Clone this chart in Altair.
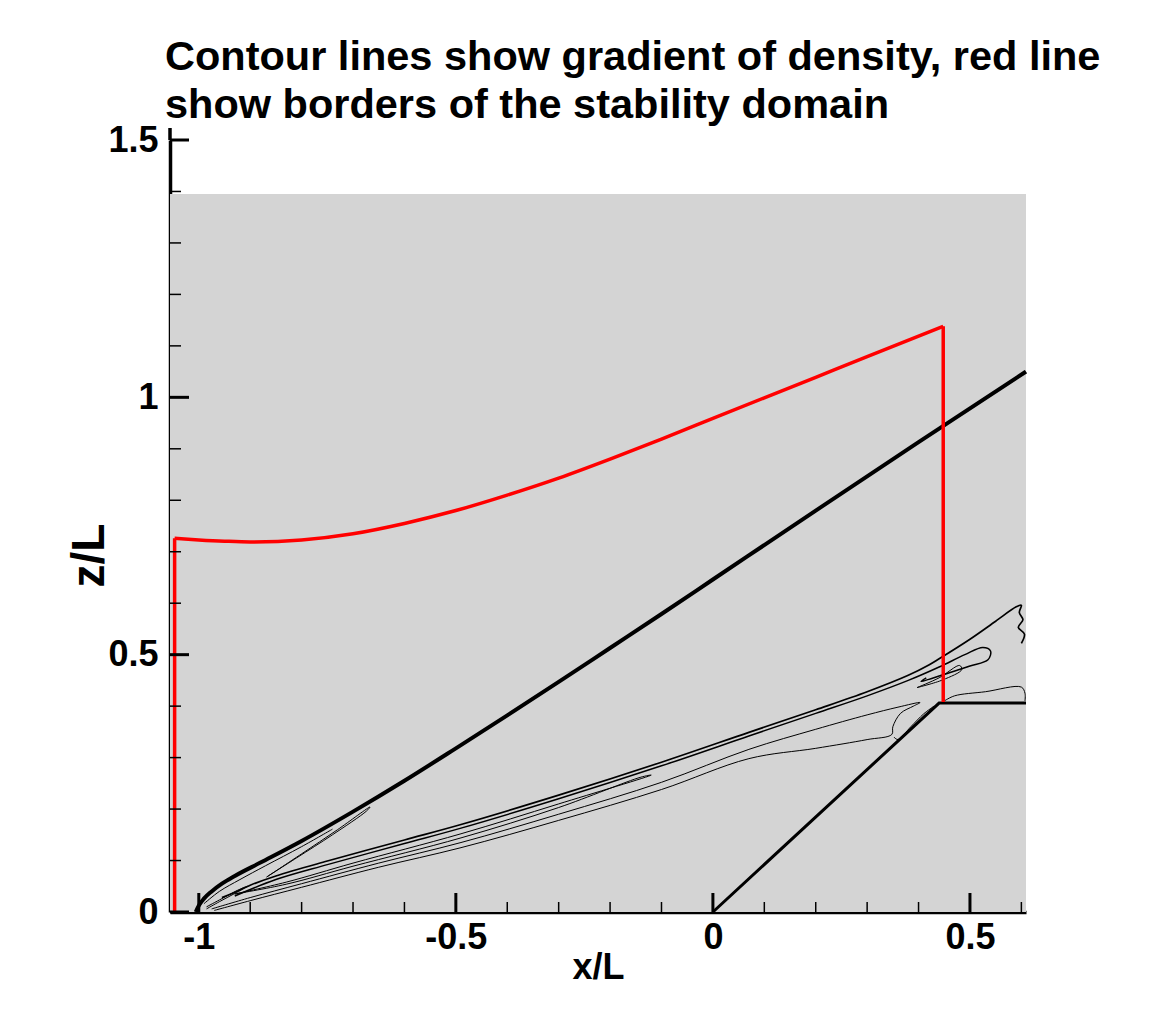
import altair as alt
import pandas as pd

# ---- text -----------------------------------------------------------------
TITLE_LINES = [
    "Contour lines show gradient of density, red line",
    "show borders of the stability domain",
]
X_TITLE = "x/L"
Z_TITLE = "z/L"

# ---- axes -----------------------------------------------------------------
X_RANGE = [-1.056, 0.609]
Z_RANGE = [0.0, 1.5]
GRAY_TOP = 1.395

X_MAJOR = [-1.0, -0.5, 0.0, 0.5]
X_MINOR = [-0.9, -0.8, -0.7, -0.6, -0.4, -0.3, -0.2, -0.1, 0.1, 0.2, 0.3, 0.4, 0.6]
Z_MAJOR = [0.0, 0.5, 1.0, 1.5]
Z_MINOR = [0.1, 0.2, 0.3, 0.4, 0.6, 0.7, 0.8, 0.9, 1.1, 1.2, 1.3, 1.4]

# ---- shock front (thick black) --------------------------------------------
SHOCK_X = [-1.006, -0.999, -0.99, -0.975, -0.955, -0.93, -0.88, -0.8, -0.7, -0.6,
           -0.5, -0.4, -0.3, -0.2, -0.1, 0.0, 0.2, 0.4, 0.609]
SHOCK_Z = [0.0, 0.014, 0.026, 0.04, 0.055, 0.07, 0.096, 0.138, 0.195, 0.255,
           0.318, 0.382, 0.447, 0.513, 0.579, 0.646, 0.78, 0.913, 1.05]

# ---- body: wedge ramp and flat top -----------------------------------------
BODY_X = [0.0, 0.44, 0.609]
BODY_Z = [0.0, 0.406, 0.406]

# ---- stability-domain border (red) -----------------------------------------
RED_LEFT_X = -1.047
RED_RIGHT_X = 0.448
RED_RIGHT_BOTTOM = 0.408
RED_X = [-1.047, -1.0, -0.95, -0.9, -0.8, -0.7, -0.6, -0.5, -0.4, -0.3,
         -0.2, -0.1, 0.0, 0.1, 0.2, 0.3, 0.448]
RED_Z = [0.726, 0.723, 0.7205, 0.719, 0.723, 0.735, 0.755, 0.78, 0.81, 0.843,
         0.88, 0.919, 0.959, 0.999, 1.039, 1.079, 1.138]

# ---- density-gradient contours ----------------------------------------------
NOSE_SLIVER_X = [-0.868, -0.80, -0.73, -0.667, -0.674, -0.74, -0.81, -0.868]
NOSE_SLIVER_Z = [0.068, 0.113, 0.16, 0.204, 0.196, 0.15, 0.105, 0.068]

SHOCK_INNER_X = [-0.99, -0.96, -0.92, -0.87, -0.8, -0.74]
SHOCK_INNER_Z = [0.016, 0.04, 0.063, 0.09, 0.127, 0.161]

NOSE_LOOP_X = [-0.985, -0.96, -0.93, -0.905, -0.925, -0.955, -0.985]
NOSE_LOOP_Z = [0.006, 0.02, 0.036, 0.05, 0.042, 0.026, 0.01]

BAND_UPPER_X = [-0.955, -0.935, -0.9, -0.85, -0.75, -0.6, -0.49, -0.3, -0.1, 0.07,
                0.2, 0.3, 0.38, 0.42, 0.44, 0.5, 0.55, 0.59, 0.6, 0.596, 0.603,
                0.594, 0.606, 0.6]
BAND_UPPER_Z = [0.028, 0.036, 0.052, 0.07, 0.099, 0.14, 0.17, 0.227, 0.291, 0.349,
                0.393, 0.428, 0.46, 0.48, 0.492, 0.53, 0.565, 0.593, 0.596, 0.582,
                0.568, 0.553, 0.54, 0.522]

BAND_LOWER_X = [-0.93, -0.85, -0.75, -0.6, -0.49, -0.3, -0.1, 0.07, 0.2, 0.3, 0.38,
                0.44, 0.49, 0.525, 0.54, 0.535, 0.5, 0.46, 0.42, 0.405, 0.415]
BAND_LOWER_Z = [0.031, 0.063, 0.092, 0.133, 0.163, 0.22, 0.284, 0.342, 0.386, 0.42,
                0.45, 0.476, 0.5, 0.514, 0.507, 0.49, 0.478, 0.465, 0.452, 0.448, 0.455]

SMALL_LOBE_X = [0.397, 0.44, 0.48, 0.484, 0.447, 0.397]
SMALL_LOBE_Z = [0.436, 0.455, 0.479, 0.471, 0.451, 0.436]

MID_SLIVER_X = [-0.93, -0.83, -0.7, -0.49, -0.3, -0.12, -0.14, -0.3, -0.49, -0.7, -0.83, -0.93]
MID_SLIVER_Z = [0.035, 0.058, 0.095, 0.152, 0.21, 0.266, 0.262, 0.203, 0.144, 0.089, 0.054, 0.035]

LOWER_LOOP_X = [-0.975, -0.9, -0.8, -0.65, -0.49, -0.3, -0.1, 0.07, 0.2, 0.3, 0.36, 0.403,
                0.39, 0.365, 0.35, 0.348, 0.3, 0.2, 0.07, -0.1, -0.3, -0.49, -0.65, -0.8,
                -0.9, -0.97]
LOWER_LOOP_Z = [0.006, 0.028, 0.055, 0.095, 0.135, 0.19, 0.252, 0.316, 0.355, 0.383, 0.398, 0.407,
                0.4, 0.386, 0.36, 0.345, 0.335, 0.318, 0.298, 0.238, 0.178, 0.125, 0.087, 0.048,
                0.022, 0.003]

WEDGE_SPIKE_X = [0.352, 0.36, 0.385, 0.41, 0.43]
WEDGE_SPIKE_Z = [0.34, 0.335, 0.36, 0.385, 0.4]

CORNER_X = [0.45, 0.47, 0.53, 0.6, 0.607, 0.607]
CORNER_Z = [0.41, 0.42, 0.428, 0.437, 0.425, 0.41]

CONTOURS = [
    ("nose_sliver", NOSE_SLIVER_X, NOSE_SLIVER_Z, 1.0),
    ("shock_inner", SHOCK_INNER_X, SHOCK_INNER_Z, 1.0),
    ("nose_loop", NOSE_LOOP_X, NOSE_LOOP_Z, 1.0),
    ("band_upper", BAND_UPPER_X, BAND_UPPER_Z, 1.7),
    ("band_lower", BAND_LOWER_X, BAND_LOWER_Z, 1.5),
    ("small_lobe", SMALL_LOBE_X, SMALL_LOBE_Z, 1.0),
    ("mid_sliver", MID_SLIVER_X, MID_SLIVER_Z, 1.0),
    ("lower_loop", LOWER_LOOP_X, LOWER_LOOP_Z, 1.0),
    ("wedge_spike", WEDGE_SPIKE_X, WEDGE_SPIKE_Z, 1.0),
    ("corner", CORNER_X, CORNER_Z, 1.0),
]

# ---- layout -----------------------------------------------------------------
W, H = 856, 772
LABEL_FONT = "Liberation Sans"


def path_frame(xs, zs, name="p"):
    return pd.DataFrame({"x": xs, "z": zs, "i": range(len(xs)), "c": name})


xs = alt.Scale(domain=X_RANGE, nice=False, zero=False)
zs = alt.Scale(domain=Z_RANGE, nice=False, zero=False)

x_axis = alt.Axis(
    values=X_MAJOR, labelExpr="'' + datum.value", title=X_TITLE,
    grid=False, ticks=False, tickSize=0, domainColor="black", domainWidth=3.5,
    labelFont=LABEL_FONT, labelFontWeight="bold", labelFontSize=36, labelColor="black",
    labelPadding=36, labelBaseline="alphabetic", labelFlush=False, labelOverlap=False,
    titleFont=LABEL_FONT, titleFontWeight="bold", titleFontSize=36, titleColor="black",
    titleY=66, titleBaseline="alphabetic",
)
z_axis = alt.Axis(
    values=Z_MAJOR, labelExpr="'' + datum.value", title=Z_TITLE,
    grid=False, ticks=False, tickSize=0, domainColor="black", domainWidth=3.5,
    labelFont=LABEL_FONT, labelFontWeight="bold", labelFontSize=36, labelColor="black",
    labelPadding=12, labelFlush=False, labelOverlap=False,
    titleFont=LABEL_FONT, titleFontWeight="bold", titleFontSize=46, titleColor="black",
    titleX=-67, titleY=415, titleAngle=270, titleBaseline="alphabetic", titleAlign="center",
)


def X(field="x:Q"):
    return alt.X(field, scale=xs, axis=x_axis)


def Z(field="z:Q"):
    return alt.Y(field, scale=zs, axis=z_axis)


# gray computational domain
gray = alt.Chart(pd.DataFrame({"x": [X_RANGE[0]], "x2": [X_RANGE[1]],
                               "z": [0.0], "z2": [GRAY_TOP]})).mark_rect(
    color="#d4d4d4"
).encode(x=X(), x2="x2:Q", y=Z(), y2="z2:Q")

contour_df = pd.concat(
    [path_frame(cx, cz, name).assign(w=w) for name, cx, cz, w in CONTOURS],
    ignore_index=True,
)
contours = alt.Chart(contour_df).mark_line(
    color="black", interpolate="catmull-rom"
).encode(
    x=X(), y=Z(), detail="c:N", order="i:Q",
    strokeWidth=alt.StrokeWidth("w:Q", scale=None, legend=None),
)


def curve(xs_, zs_, color, width, name, interp="linear"):
    return alt.Chart(path_frame(xs_, zs_, name)).mark_line(
        color=color, strokeWidth=width, strokeJoin="miter", interpolate=interp
    ).encode(x=X(), y=Z(), order="i:Q")


body = curve(BODY_X, BODY_Z, "black", 3, "body")
shock = curve(SHOCK_X, SHOCK_Z, "black", 4, "shock", "monotone")
red_curve = curve(RED_X, RED_Z, "#ff0000", 3.5, "red", "monotone")
red_sides = alt.Chart(pd.DataFrame({
    "x": [RED_LEFT_X, RED_RIGHT_X],
    "z": [0.0, RED_RIGHT_BOTTOM],
    "z2": [RED_Z[0], RED_Z[-1]],
})).mark_rule(color="#ff0000", strokeWidth=3.5).encode(x=X(), y=Z(), y2="z2:Q")

# inward ticks
x_major = alt.Chart(pd.DataFrame({"x": X_MAJOR})).mark_rule(color="black", strokeWidth=3).encode(
    x=X(), y=alt.value(H), y2=alt.value(H - 19))
x_minor = alt.Chart(pd.DataFrame({"x": X_MINOR})).mark_rule(color="black", strokeWidth=1.5).encode(
    x=X(), y=alt.value(H), y2=alt.value(H - 10))
z_major = alt.Chart(pd.DataFrame({"z": Z_MAJOR})).mark_rule(color="black", strokeWidth=3).encode(
    y=Z(), x=alt.value(0), x2=alt.value(19))
z_minor = alt.Chart(pd.DataFrame({"z": Z_MINOR})).mark_rule(color="black", strokeWidth=1.5).encode(
    y=Z(), x=alt.value(0), x2=alt.value(11))
z_top = alt.Chart(pd.DataFrame({"z": [Z_RANGE[1]]})).mark_rule(color="black", strokeWidth=3.5).encode(
    y=Z(), x=alt.value(0), y2=alt.value(-12))

chart = alt.layer(
    gray, contours, body, shock, red_sides, red_curve, x_major, x_minor, z_major, z_minor, z_top
).properties(
    width=W,
    height=H,
    background="white",
    autosize=alt.AutoSizeParams(type="none"),
    padding={"left": 170, "top": 140, "right": 135, "bottom": 100},
    title=alt.TitleParams(
        text=TITLE_LINES, anchor="start", frame="group", font="Liberation Sans", fontSize=41.5,
        fontWeight="bold", color="black", lineHeight=48, dx=-5, dy=14, offset=10,
    ),
).configure_view(stroke=None)

chart.save("out.html", embed_options={"renderer": "svg", "actions": False})
